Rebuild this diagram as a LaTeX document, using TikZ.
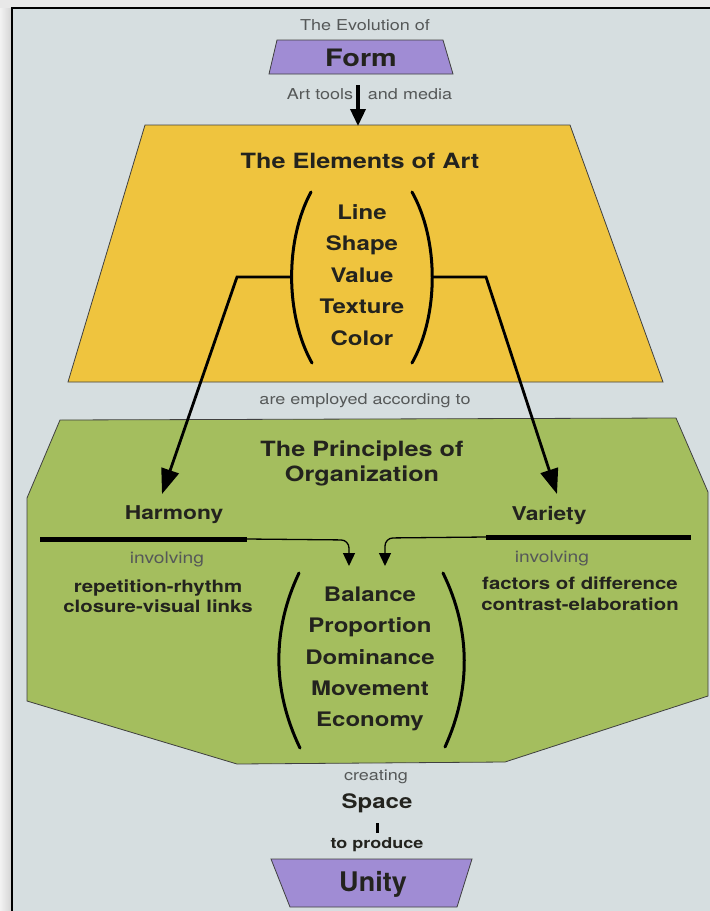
\documentclass[tikz,border=0pt]{standalone}
\usepackage{fontspec}
\setmainfont[FakeStretch=1.2]{TeX Gyre Heros}
\newfontfamily\unityfont{TeX Gyre Heros}
\usetikzlibrary{arrows.meta,positioning}

\definecolor{paper}{RGB}{214,222,224}
\definecolor{outside}{RGB}{232,232,232}
\definecolor{artyellow}{RGB}{239,196,62}
\definecolor{orggreen}{RGB}{164,190,94}
\definecolor{formpurple}{RGB}{160,140,212}
\definecolor{ink}{RGB}{35,35,30}
\definecolor{inkgray}{RGB}{85,88,88}

\tikzset{
  panel/.style={draw=black!75, line width=0.8pt},
  small/.style={font=\fontsize{15}{18}\selectfont, text=inkgray},
  title/.style={font=\bfseries\fontsize{21}{25}\selectfont, text=ink, align=center},
  word/.style={font=\bfseries\fontsize{20}{31.4}\selectfont, text=ink, align=center},
  sidetext/.style={font=\bfseries\fontsize{17}{20.5}\selectfont, text=ink, align=center},
  bigword/.style={font=\bfseries\fontsize{24}{28}\selectfont, text=ink},
  paren/.style={line width=3pt, line cap=round},
  bar/.style={line width=5pt},
  topfeed/.style={line width=3.5pt, -{Triangle[length=17pt,width=15pt]}},
  feed/.style={line width=2.8pt, -{Triangle[length=25pt,width=18pt]}},
  feedin/.style={line width=1.3pt, rounded corners=8pt, -{Triangle[length=13pt,width=12pt]}},
}

\begin{document}
\begin{tikzpicture}[x=1pt,y=-1pt]
  \useasboundingbox (0,0) rectangle (710,911);

  % paper and frame
  \fill[outside] (0,0) rectangle (710,911);
  \shade[left color=gray!10, right color=gray!35] (0,8) rectangle (12,911);
  \fill[paper] (12,8) rectangle (710,911);
  \draw[line width=2.5pt] (12,911) -- (12,8) -- (710,8);

  % shapes
  \draw[panel, fill=formpurple] (277,40) -- (443,40) -- (453,74) -- (269,74) -- cycle;
  \draw[panel, fill=artyellow] (145,125) -- (570,125) -- (663,382) -- (68,382) -- cycle;
  \draw[panel, fill=orggreen] (60,420) -- (676,418) -- (708,492) -- (708,696) -- (505,762)
      -- (237,764) -- (27,701) -- (27,498) -- cycle;
  \draw[panel, fill=formpurple] (271,859) -- (472,859) -- (457,907) -- (290,907) -- cycle;

  % top
  \node[small] (evol) at (365,25) {The Evolution of};
  \node[bigword] (form) at (361,58) {Form};
  \node[small] (tools) at (320,94) {Art tools};
  \node[small] (media) at (410,94) {and media};
  \coordinate (ftail) at (358,85);
  \coordinate (ehead) at (358,126);
  \draw[topfeed] (ftail) -- (ehead);

  % elements
  \node[title] (elements) at (360,161) {The Elements of Art};
  \node[word] (elist) at (362,275) {Line\\Shape\\Value\\Texture\\Color};
  \draw[paren] (311,192) .. controls (285,240) and (285,315) .. (312,363);
  \draw[paren] (412,192) .. controls (439,240) and (439,315) .. (412,363);
  \coordinate (lp) at (292,277);
  \coordinate (rp) at (432,277);

  \node[small] (employed) at (365,401) {are employed according to};

  % principles
  \node[title] (principles) at (362,463) {The Principles of\\Organization};
  \node[sidetext, font=\bfseries\fontsize{19}{22}\selectfont] (harmony) at (174,515) {Harmony};
  \node[sidetext, font=\bfseries\fontsize{19}{22}\selectfont] (variety) at (549,515) {Variety};
  \coordinate (htip) at (162,494);
  \coordinate (vtip) at (557,494);
  \draw[feed] (lp) -- (237,277) -- (htip);
  \draw[feed] (rp) -- (486,277) -- (vtip);

  \draw[bar] (40,539) coordinate (hbar) -- (247,539) coordinate (hend);
  \draw[bar] (486,537) coordinate (vend) -- (691,537) coordinate (vbar);
  \coordinate (hin) at (349,566);
  \coordinate (vin) at (385,566);
  \draw[feedin] (hend) -- (349,540) -- (hin);
  \draw[feedin] (vend) -- (385,538) -- (vin);

  \node[small, font=\fontsize{16}{19}\selectfont] (hinv) at (167,559) {involving};
  \node[sidetext] (hlist) at (158,596) {repetition-rhythm\\closure-visual links};
  \node[small, font=\fontsize{16}{19}\selectfont] (vinv) at (552,558) {involving};
  \node[sidetext] (vlist) at (580,593.5) {factors of difference\\contrast-elaboration};

  \node[word, font=\bfseries\fontsize{20}{31.3}\selectfont] (plist) at (370,659)
      {Balance\\Proportion\\Dominance\\Movement\\Economy};
  \draw[paren] (299,573) .. controls (272,630) and (272,690) .. (300,748);
  \draw[paren] (443,573) .. controls (471,630) and (471,690) .. (445,747);

  % bottom
  \node[small] (creating) at (376,777) {creating};
  \node[bigword, font=\bfseries\fontsize{20}{24}\selectfont] (space) at (377,803) {Space};
  \node[small, font=\bfseries\fontsize{15}{18}\selectfont, text=ink] (produce) at (377,845) {to produce};
  \draw[line width=3pt, shorten <=7pt, shorten >=1pt] (space.south) -- (produce.north);
  \node[bigword, font=\unityfont\bfseries\fontsize{27}{31}\selectfont] (unity) at (373,884) {Unity};
\end{tikzpicture}
\end{document}
